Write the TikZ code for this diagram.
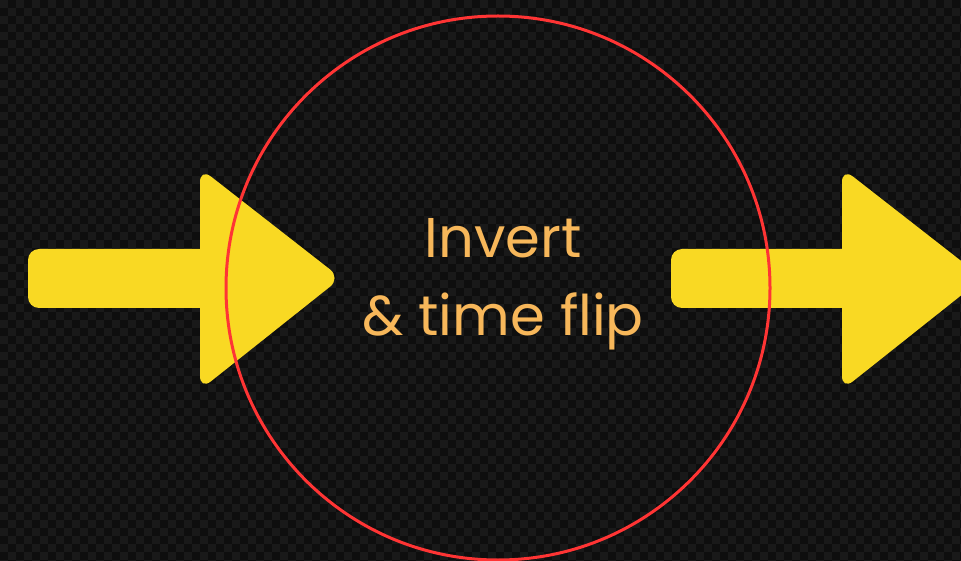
\documentclass[tikz,border=0pt]{standalone}
\usepackage{fontspec}
\setmainfont{Poppins}
\definecolor{bgA}{HTML}{0E0E0E}
\definecolor{bgB}{HTML}{191919}
\definecolor{arrowyellow}{HTML}{F9D923}
\definecolor{ringred}{HTML}{FF3434}
\definecolor{labelorange}{HTML}{F7B75A}
\tikzset{
  arrowshape/.style={fill=arrowyellow, draw=none},
  ring/.style={draw=ringred, line width=3pt},
  label/.style={text=labelorange, font=\fontsize{56}{78}\selectfont, align=center, inner sep=0pt}
}
\begin{document}
\begin{tikzpicture}[x=1pt,y=-1pt]
\useasboundingbox (0,0) rectangle (961,561);
\fill[bgA] (0,0) rectangle (961,561);
\foreach \i in {0,...,120}{
  \foreach \j in {0,...,70}{
    \pgfmathtruncatemacro{\cpar}{mod(\i+\j,2)}
    \ifnum\cpar=0 \fill[bgB] (\i*8,\j*8) rectangle ++(8,8);\fi
  }
}
% left arrow
\fill[arrowshape, rounded corners=11pt] (28,249) rectangle (230,308);
\fill[arrowshape, rounded corners=14pt] (200,168) -- (341,278) -- (200,390) -- cycle;
% right arrow
\fill[arrowshape, rounded corners=11pt] (671,249) rectangle (870,308);
\fill[arrowshape, rounded corners=14pt] (842,168) -- (983,278) -- (842,390) -- cycle;
% ring
\node[ring, circle, minimum size=544pt, inner sep=0pt] (ring) at (498,288) {};
\node[label] (txt) at (503,284) {Invert\\\& time flip};
\end{tikzpicture}
\end{document}
